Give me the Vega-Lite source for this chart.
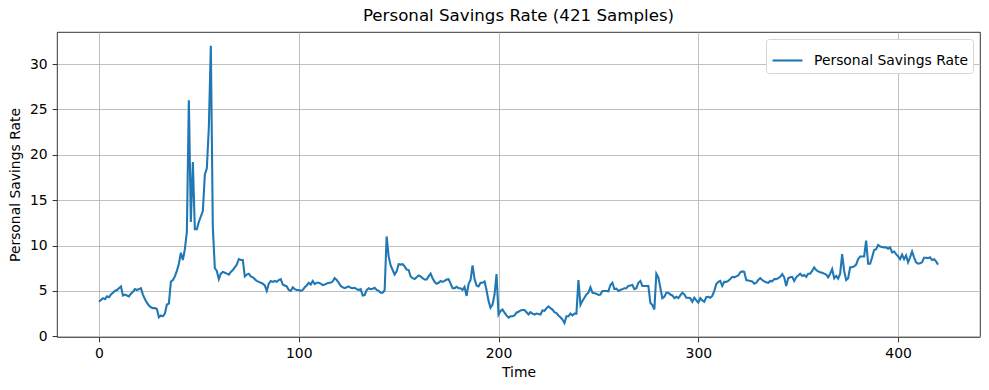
{
  "$schema": "https://vega.github.io/schema/vega-lite/v6.json",
  "autosize": {"type": "none"},
  "width": 923,
  "height": 305,
  "padding": {"left": 57, "top": 32, "right": 9, "bottom": 53},
  "background": "white",
  "config": {
    "font": "DejaVu Sans",
    "view": {"stroke": "black", "strokeWidth": 0.8},
    "axis": {
      "labelFont": "DejaVu Sans", "labelFontSize": 13.9, "labelColor": "black",
      "titleFont": "DejaVu Sans", "titleFontSize": 13.9, "titleFontWeight": "normal", "titleColor": "black",
      "tickColor": "black", "tickWidth": 0.8, "tickSize": 4.9, "labelPadding": 4.9,
      "domain": false, "grid": true, "gridColor": "#b0b0b0", "gridWidth": 0.8
    }
  },
  "title": {"text": "Personal Savings Rate (421 Samples)", "font": "DejaVu Sans", "fontSize": 16.67, "fontWeight": "normal", "color": "black", "anchor": "middle", "offset": 7},
  "data": {"values": [
    {"t":0,"rate":3.8},{"t":1,"rate":4.0},{"t":2,"rate":4.2},{"t":3,"rate":4.1},{"t":4,"rate":4.4},{"t":5,"rate":4.3},{"t":6,"rate":4.6},{"t":7,"rate":4.8},{"t":8,"rate":5.0},{"t":9,"rate":5.1},
    {"t":10,"rate":5.3},{"t":11,"rate":5.5},{"t":12,"rate":4.5},{"t":13,"rate":4.6},{"t":14,"rate":4.5},{"t":15,"rate":4.4},{"t":16,"rate":4.7},{"t":17,"rate":4.9},{"t":18,"rate":5.2},{"t":19,"rate":5.1},
    {"t":20,"rate":5.2},{"t":21,"rate":5.3},{"t":22,"rate":4.6},{"t":23,"rate":4.1},{"t":24,"rate":3.7},{"t":25,"rate":3.4},{"t":26,"rate":3.2},{"t":27,"rate":3.1},{"t":28,"rate":3.1},{"t":29,"rate":3.0},
    {"t":30,"rate":2.1},{"t":31,"rate":2.3},{"t":32,"rate":2.2},{"t":33,"rate":2.5},{"t":34,"rate":3.5},{"t":35,"rate":3.6},{"t":36,"rate":6.0},{"t":37,"rate":6.2},{"t":38,"rate":6.6},{"t":39,"rate":7.2},
    {"t":40,"rate":8.0},{"t":41,"rate":9.2},{"t":42,"rate":8.4},{"t":43,"rate":9.6},{"t":44,"rate":11.5},{"t":45,"rate":26.0},{"t":46,"rate":12.6},{"t":47,"rate":19.2},{"t":48,"rate":11.8},{"t":49,"rate":11.8},
    {"t":50,"rate":12.6},{"t":51,"rate":13.2},{"t":52,"rate":13.8},{"t":53,"rate":17.8},{"t":54,"rate":18.5},{"t":55,"rate":23.0},{"t":56,"rate":32.0},{"t":57,"rate":12.0},{"t":58,"rate":7.5},{"t":59,"rate":7.2},
    {"t":60,"rate":6.3},{"t":61,"rate":6.9},{"t":62,"rate":7.1},{"t":63,"rate":7.0},{"t":64,"rate":6.9},{"t":65,"rate":6.8},{"t":66,"rate":7.1},{"t":67,"rate":7.3},{"t":68,"rate":7.6},{"t":69,"rate":7.9},
    {"t":70,"rate":8.5},{"t":71,"rate":8.4},{"t":72,"rate":8.4},{"t":73,"rate":6.6},{"t":74,"rate":6.8},{"t":75,"rate":6.9},{"t":76,"rate":6.6},{"t":77,"rate":6.5},{"t":78,"rate":6.3},{"t":79,"rate":6.1},
    {"t":80,"rate":6.0},{"t":81,"rate":5.9},{"t":82,"rate":5.8},{"t":83,"rate":5.6},{"t":84,"rate":5.0},{"t":85,"rate":5.8},{"t":86,"rate":6.1},{"t":87,"rate":6.0},{"t":88,"rate":6.1},{"t":89,"rate":6.0},
    {"t":90,"rate":6.2},{"t":91,"rate":6.3},{"t":92,"rate":5.7},{"t":93,"rate":5.6},{"t":94,"rate":5.5},{"t":95,"rate":5.1},{"t":96,"rate":5.0},{"t":97,"rate":5.4},{"t":98,"rate":5.2},{"t":99,"rate":5.1},
    {"t":100,"rate":5.1},{"t":101,"rate":5.0},{"t":102,"rate":5.1},{"t":103,"rate":5.4},{"t":104,"rate":5.6},{"t":105,"rate":5.9},{"t":106,"rate":5.7},{"t":107,"rate":6.1},{"t":108,"rate":5.75},{"t":109,"rate":5.9},
    {"t":110,"rate":5.9},{"t":111,"rate":5.8},{"t":112,"rate":5.65},{"t":113,"rate":5.7},{"t":114,"rate":5.8},{"t":115,"rate":5.9},{"t":116,"rate":5.9},{"t":117,"rate":6.05},{"t":118,"rate":6.4},{"t":119,"rate":6.2},
    {"t":120,"rate":5.9},{"t":121,"rate":5.55},{"t":122,"rate":5.4},{"t":123,"rate":5.3},{"t":124,"rate":5.4},{"t":125,"rate":5.5},{"t":126,"rate":5.35},{"t":127,"rate":5.3},{"t":128,"rate":5.35},{"t":129,"rate":5.2},
    {"t":130,"rate":5.1},{"t":131,"rate":5.2},{"t":132,"rate":4.5},{"t":133,"rate":4.55},{"t":134,"rate":5.1},{"t":135,"rate":5.3},{"t":136,"rate":5.2},{"t":137,"rate":5.25},{"t":138,"rate":5.35},{"t":139,"rate":5.1},
    {"t":140,"rate":5.0},{"t":141,"rate":4.8},{"t":142,"rate":4.8},{"t":143,"rate":5.07},{"t":144,"rate":11.0},{"t":145,"rate":8.8},{"t":146,"rate":7.8},{"t":147,"rate":7.3},{"t":148,"rate":6.8},{"t":149,"rate":7.15},
    {"t":150,"rate":7.95},{"t":151,"rate":7.9},{"t":152,"rate":7.95},{"t":153,"rate":7.7},{"t":154,"rate":7.35},{"t":155,"rate":7.3},{"t":156,"rate":6.6},{"t":157,"rate":6.4},{"t":158,"rate":6.3},{"t":159,"rate":6.5},
    {"t":160,"rate":6.7},{"t":161,"rate":6.6},{"t":162,"rate":6.4},{"t":163,"rate":6.25},{"t":164,"rate":6.25},{"t":165,"rate":6.6},{"t":166,"rate":6.9},{"t":167,"rate":6.4},{"t":168,"rate":6.0},{"t":169,"rate":5.8},
    {"t":170,"rate":5.9},{"t":171,"rate":6.1},{"t":172,"rate":6.0},{"t":173,"rate":6.1},{"t":174,"rate":6.25},{"t":175,"rate":6.3},{"t":176,"rate":5.8},{"t":177,"rate":5.3},{"t":178,"rate":5.3},{"t":179,"rate":5.45},
    {"t":180,"rate":5.3},{"t":181,"rate":5.3},{"t":182,"rate":5.1},{"t":183,"rate":5.45},{"t":184,"rate":4.45},{"t":185,"rate":5.75},{"t":186,"rate":6.2},{"t":187,"rate":7.8},{"t":188,"rate":6.3},{"t":189,"rate":5.6},
    {"t":190,"rate":5.5},{"t":191,"rate":5.9},{"t":192,"rate":5.9},{"t":193,"rate":6.05},{"t":194,"rate":5.07},{"t":195,"rate":3.9},{"t":196,"rate":3.15},{"t":197,"rate":3.5},{"t":198,"rate":4.6},{"t":199,"rate":6.85},
    {"t":200,"rate":2.4},{"t":201,"rate":2.8},{"t":202,"rate":2.95},{"t":203,"rate":2.6},{"t":204,"rate":2.3},{"t":205,"rate":2.05},{"t":206,"rate":2.2},{"t":207,"rate":2.2},{"t":208,"rate":2.3},{"t":209,"rate":2.6},
    {"t":210,"rate":2.7},{"t":211,"rate":2.85},{"t":212,"rate":2.9},{"t":213,"rate":2.9},{"t":214,"rate":2.65},{"t":215,"rate":2.4},{"t":216,"rate":2.65},{"t":217,"rate":2.5},{"t":218,"rate":2.4},{"t":219,"rate":2.5},
    {"t":220,"rate":2.45},{"t":221,"rate":2.4},{"t":222,"rate":2.85},{"t":223,"rate":2.8},{"t":224,"rate":3.1},{"t":225,"rate":3.3},{"t":226,"rate":3.1},{"t":227,"rate":2.95},{"t":228,"rate":2.65},{"t":229,"rate":2.55},
    {"t":230,"rate":2.3},{"t":231,"rate":2.1},{"t":232,"rate":1.85},{"t":233,"rate":1.45},{"t":234,"rate":2.2},{"t":235,"rate":2.2},{"t":236,"rate":2.5},{"t":237,"rate":2.3},{"t":238,"rate":2.5},{"t":239,"rate":2.5},
    {"t":240,"rate":6.2},{"t":241,"rate":3.45},{"t":242,"rate":3.9},{"t":243,"rate":4.25},{"t":244,"rate":4.6},{"t":245,"rate":4.8},{"t":246,"rate":5.4},{"t":247,"rate":4.8},{"t":248,"rate":4.75},{"t":249,"rate":4.7},
    {"t":250,"rate":4.55},{"t":251,"rate":4.6},{"t":252,"rate":5.0},{"t":253,"rate":5.0},{"t":254,"rate":5.0},{"t":255,"rate":4.95},{"t":256,"rate":5.65},{"t":257,"rate":5.9},{"t":258,"rate":5.2},{"t":259,"rate":5.25},
    {"t":260,"rate":5.0},{"t":261,"rate":5.1},{"t":262,"rate":5.2},{"t":263,"rate":5.3},{"t":264,"rate":5.3},{"t":265,"rate":5.55},{"t":266,"rate":5.6},{"t":267,"rate":5.65},{"t":268,"rate":5.2},{"t":269,"rate":5.3},
    {"t":270,"rate":5.9},{"t":271,"rate":6.1},{"t":272,"rate":5.55},{"t":273,"rate":5.55},{"t":274,"rate":5.55},{"t":275,"rate":5.55},{"t":276,"rate":3.7},{"t":277,"rate":3.45},{"t":278,"rate":2.95},{"t":279,"rate":6.9},
    {"t":280,"rate":6.5},{"t":281,"rate":5.35},{"t":282,"rate":4.2},{"t":283,"rate":4.35},{"t":284,"rate":4.8},{"t":285,"rate":4.8},{"t":286,"rate":4.6},{"t":287,"rate":4.5},{"t":288,"rate":4.2},{"t":289,"rate":4.35},
    {"t":290,"rate":4.2},{"t":291,"rate":4.5},{"t":292,"rate":4.8},{"t":293,"rate":4.6},{"t":294,"rate":4.25},{"t":295,"rate":4.25},{"t":296,"rate":4.2},{"t":297,"rate":3.8},{"t":298,"rate":4.25},{"t":299,"rate":3.95},
    {"t":300,"rate":3.7},{"t":301,"rate":4.2},{"t":302,"rate":3.95},{"t":303,"rate":3.8},{"t":304,"rate":4.3},{"t":305,"rate":4.35},{"t":306,"rate":4.25},{"t":307,"rate":4.45},{"t":308,"rate":5.0},{"t":309,"rate":5.75},
    {"t":310,"rate":6.0},{"t":311,"rate":6.1},{"t":312,"rate":5.55},{"t":313,"rate":6.0},{"t":314,"rate":6.0},{"t":315,"rate":6.1},{"t":316,"rate":6.3},{"t":317,"rate":6.55},{"t":318,"rate":6.5},{"t":319,"rate":6.6},
    {"t":320,"rate":6.7},{"t":321,"rate":7.05},{"t":322,"rate":7.15},{"t":323,"rate":7.1},{"t":324,"rate":6.2},{"t":325,"rate":6.15},{"t":326,"rate":6.1},{"t":327,"rate":6.05},{"t":328,"rate":5.8},{"t":329,"rate":5.9},
    {"t":330,"rate":6.2},{"t":331,"rate":6.4},{"t":332,"rate":6.2},{"t":333,"rate":6.05},{"t":334,"rate":5.95},{"t":335,"rate":5.9},{"t":336,"rate":6.1},{"t":337,"rate":6.05},{"t":338,"rate":6.3},{"t":339,"rate":6.3},
    {"t":340,"rate":6.4},{"t":341,"rate":6.55},{"t":342,"rate":6.85},{"t":343,"rate":6.5},{"t":344,"rate":5.55},{"t":345,"rate":6.4},{"t":346,"rate":6.5},{"t":347,"rate":6.55},{"t":348,"rate":6.1},{"t":349,"rate":6.5},
    {"t":350,"rate":6.7},{"t":351,"rate":6.9},{"t":352,"rate":6.65},{"t":353,"rate":6.75},{"t":354,"rate":6.55},{"t":355,"rate":6.9},{"t":356,"rate":6.9},{"t":357,"rate":7.2},{"t":358,"rate":7.6},{"t":359,"rate":7.3},
    {"t":360,"rate":7.15},{"t":361,"rate":7.05},{"t":362,"rate":7.0},{"t":363,"rate":6.9},{"t":364,"rate":6.8},{"t":365,"rate":6.5},{"t":366,"rate":6.9},{"t":367,"rate":7.4},{"t":368,"rate":6.4},{"t":369,"rate":6.65},
    {"t":370,"rate":6.35},{"t":371,"rate":6.9},{"t":372,"rate":9.05},{"t":373,"rate":7.2},{"t":374,"rate":6.2},{"t":375,"rate":6.4},{"t":376,"rate":7.6},{"t":377,"rate":7.6},{"t":378,"rate":7.7},{"t":379,"rate":7.9},
    {"t":380,"rate":8.5},{"t":381,"rate":8.8},{"t":382,"rate":8.8},{"t":383,"rate":8.8},{"t":384,"rate":10.55},{"t":385,"rate":8.0},{"t":386,"rate":8.0},{"t":387,"rate":8.7},{"t":388,"rate":9.5},{"t":389,"rate":9.6},
    {"t":390,"rate":10.05},{"t":391,"rate":9.9},{"t":392,"rate":9.85},{"t":393,"rate":9.8},{"t":394,"rate":9.8},{"t":395,"rate":9.65},{"t":396,"rate":9.8},{"t":397,"rate":9.25},{"t":398,"rate":9.35},{"t":399,"rate":9.05},
    {"t":400,"rate":8.8},{"t":401,"rate":8.5},{"t":402,"rate":9.0},{"t":403,"rate":8.5},{"t":404,"rate":8.9},{"t":405,"rate":8.15},{"t":406,"rate":8.7},{"t":407,"rate":9.35},{"t":408,"rate":8.7},{"t":409,"rate":8.15},
    {"t":410,"rate":8.0},{"t":411,"rate":8.05},{"t":412,"rate":8.15},{"t":413,"rate":8.65},{"t":414,"rate":8.65},{"t":415,"rate":8.6},{"t":416,"rate":8.7},{"t":417,"rate":8.4},{"t":418,"rate":8.5},{"t":419,"rate":8.25},
    {"t":420,"rate":7.9}
  ]},
  "mark": {"type": "line", "strokeWidth": 2.08, "clip": true},
  "encoding": {
    "x": {"field": "t", "type": "quantitative", "title": "Time",
      "scale": {"domain": [-21, 441], "nice": false, "zero": false},
      "axis": {"values": [0, 100, 200, 300, 400], "format": "d", "titlePadding": 5}},
    "y": {"field": "rate", "type": "quantitative", "title": "Personal Savings Rate",
      "scale": {"domain": [-0.0775, 33.5275], "nice": false, "zero": false},
      "axis": {"values": [0, 5, 10, 15, 20, 25, 30], "format": "d", "titlePadding": 7}},
    "color": {"datum": "Personal Savings Rate", "type": "nominal",
      "scale": {"range": ["#1f77b4"]},
      "legend": {"title": null, "orient": "top-right", "offset": 7, "symbolType": "stroke", "symbolSize": 900, "symbolStrokeWidth": 2.08,
        "labelFont": "DejaVu Sans", "labelFontSize": 13.9, "labelColor": "black", "labelOffset": 10,
        "padding": 5, "strokeColor": "#d6d6d6", "fillColor": "white", "cornerRadius": 3}}
  }
}
